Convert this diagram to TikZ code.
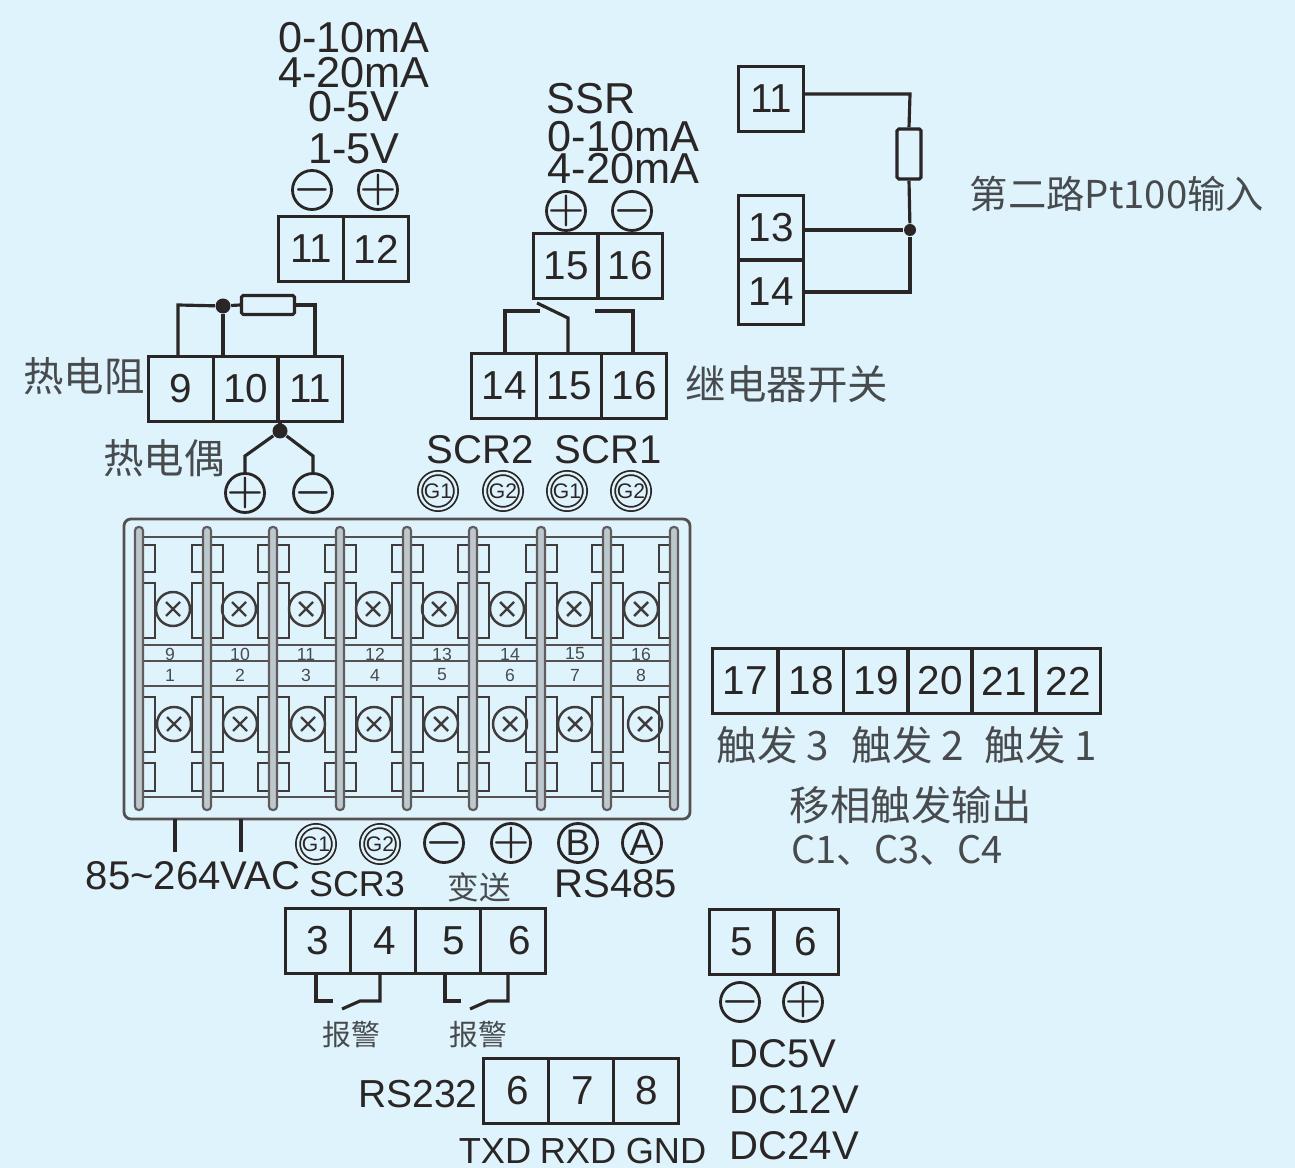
\documentclass[tikz,border=0pt]{standalone}
\usepackage{fontspec}
\setmainfont{Liberation Sans}
\newfontfamily\cjk{Noto Sans CJK SC}
\usepackage{tikz}
\definecolor{panelblue}{HTML}{DFF3FC}
\definecolor{inkdark}{HTML}{2B2626}
\definecolor{inkgray}{HTML}{484B4D}
\definecolor{barfill}{HTML}{BCC8CE}
\newcommand{\marktext}[1]{\smash{\raisebox{-0.25em}{\makebox[0pt]{\boldmath$#1$}}}}
\tikzset{
	wire/.style={draw=inkdark,line width=0.9pt},
	cell/.style={draw=inkdark,line width=0.9pt,minimum width=0.65cm,minimum height=0.65cm,inner sep=0pt,text=inkdark,font=\fontsize{11.5}{11.5}\selectfont},
	lbl/.style={inner sep=0pt,text=inkdark,font=\fontsize{11.4}{11.4}\selectfont},
	biglbl/.style={inner sep=0pt,text=inkdark,font=\fontsize{12.3}{12.3}\selectfont},
	cjklbl/.style={inner sep=0pt,text=inkgray,font=\cjk\fontsize{11.5}{11.5}\selectfont},
	smallcjk/.style={inner sep=0pt,text=inkgray,font=\cjk\fontsize{8.2}{8.2}\selectfont},
	signmark/.style={draw=inkdark,line width=0.8pt,circle,minimum size=0.39cm,inner sep=0pt,text=inkdark,font=\fontsize{12}{12}\selectfont},
	gmark/.style={draw=inkdark,line width=0.5pt,circle,double=panelblue,double distance=0.7pt,minimum size=0.36cm,inner sep=0pt,text=inkdark,font=\fontsize{6}{6}\selectfont},
	dotmark/.style={circle,fill=inkdark,inner sep=0pt,minimum size=0.15cm},
	resist/.style={draw=inkdark,line width=0.9pt,rounded corners=0.5pt,inner sep=0pt},
	tabline/.style={draw=inkdark!90,line width=0.7pt},
	railline/.style={draw=inkdark!80,line width=0.8pt},
	barline/.style={draw=inkdark!75,line width=0.6pt,fill=barfill,rounded corners=1pt},
	tinynum/.style={text=inkgray,inner sep=0pt,font=\fontsize{5}{5}\selectfont},
}
\begin{document}
\begin{tikzpicture}[x=0.01cm,y=-0.01cm]
	\fill[panelblue] (0,0) rectangle (1295,1168);
	\useasboundingbox (0,0) rectangle (1295,1168);

	\foreach \name/\x/\y/\txt in {a11/311/249/11,a12/376/249/12,
		b15/566/266/15,b16/630/266/16,
		d11/771/99/11,d13/771/228/13,d14/771/292/14,
		e9/181/389/9,e10/246/389/10,e11/310/389/11,
		f14/504/386/14,f15/569/386/15,f16/634/386/16,
		g17/745/681/17,g18/811/681/18,g19/876/681/19,g20/940/681/20,g21/1004/681/21,g22/1068/681/22,
		h3/318/941/3,h4/383/941/\kern0.04cm 4,h5/448/941/\kern0.12cm 5,h6/513/941/\kern0.14cm 6,
		i5/742/942/5,i6/806/942/6,
		j6/516/1091/\kern0.04cm 6,j7/581/1091/\kern0.04cm 7,j8/646/1091/\kern0.02cm 8} {
		\node[cell] (\name) at (\x,\y) {\txt};
	}

	\foreach \y/\txt in {38/0-10mA,73/4-20mA,107/0-5V,149/1-5V} {
		\node[biglbl] (in\y) at (354,\y) {\txt};
	}
	\node[signmark] (aminus) at (312,190) {\marktext{-}};
	\node[signmark] (aplus) at (378,190) {\marktext{+}};

	\node[biglbl,anchor=west] (ssr) at (546,99) {SSR};
	\node[biglbl,anchor=west] (ssr2) at (547,137) {0-10mA};
	\node[biglbl,anchor=west] (ssr3) at (547,169) {4-20mA};
	\node[signmark] (bplus) at (566,211) {\marktext{+}};
	\node[signmark] (bminus) at (632,211) {\marktext{-}};

	\node[resist,minimum width=0.24cm,minimum height=0.5cm] (ptres) at (909,154) {};
	\node[dotmark,minimum size=0.12cm] (ptdot) at (910,230) {};
	\coordinate (pttop) at (910,94);
	\draw[wire] (d11.east |- pttop) -- (pttop) -- (ptres.north);
	\draw[wire] (ptres.south) -- (ptdot);
	\draw[wire] (d13.east |- ptdot) -- (ptdot);
	\draw[wire] (d14.east) -- (d14.east -| ptdot) -- (ptdot);
	\node[cjklbl,font=\cjk\fontsize{10.9}{10.9}\selectfont] (ptlbl) at (1117,194) {第二路Pt100输入};

	\coordinate (rtdleft) at (178,305);
	\node[dotmark] (rtddot) at (223,306) {};
	\node[resist,minimum width=0.53cm,minimum height=0.19cm] (rtdres) at (268,305) {};
	\coordinate (rtdright) at (315,305);
	\draw[wire] (e9.north -| rtdleft) -- (rtdleft) -- (rtddot) -- (rtdres.west);
	\draw[wire] (e10.north -| rtddot) -- (rtddot);
	\draw[wire] (rtdres.east) -- (rtdright) -- (e11.north -| rtdright);
	\node[cjklbl] (rtdlbl) at (84,376) {热电阻};

	\node[dotmark] (tcdot) at (280,431) {};
	\node[signmark] (tcplus) at (245,493) {\marktext{+}};
	\node[signmark] (tcminus) at (313,493) {\marktext{-}};
	\coordinate (tca) at (245,456);
	\coordinate (tcb) at (313,456);
	\draw[wire] (e11.south -| tcdot) -- (tcdot);
	\draw[wire] (tcplus.north) -- (tca) -- (tcdot) -- (tcb) -- (tcminus.north);
	\node[cjklbl] (tclbl) at (164,458) {热电偶};

	\coordinate (rlya) at (505,311);
	\coordinate (rlyb) at (540,311);
	\coordinate (rlyc) at (537,303);
	\coordinate (rlyd) at (568,318);
	\coordinate (rlye) at (595,311);
	\coordinate (rlyf) at (633,311);
	\draw[wire] (f14.north -| rlya) -- (rlya) -- (rlyb);
	\draw[wire] (rlyc) -- (rlyd) -- (f15.north -| rlyd);
	\draw[wire] (rlye) -- (rlyf) -- (f16.north -| rlyf);
	\node[cjklbl] (rlylbl) at (787,384) {继电器开关};

	\node[lbl] (scr2) at (480,450) {SCR2};
	\node[lbl] (scr1) at (608,450) {SCR1};
	\foreach \name/\x/\txt in {ga/438/G1,gb/503/G2,gc/567/G1,gd/631/G2} {
		\node[gmark] (\name) at (\x,491) {\txt};
	}

	\draw[railline,rounded corners=2pt] (124,519) rectangle (690,819);
	\foreach \y in {537,645,661,686,797} {
		\draw[railline] (139,\y) -- (674,\y);
	}
	\foreach \x/\xn/\sa/\sb/\ux/\up/\lo in {139/207/173/174/170/9/1,207/273/239/240/240/10/2,273/340/306/308/306/11/3,340/407/373/374/375/12/4,
		407/473/439/441/442/13/5,473/541/507/510/510/14/6,541/607/574/575/575/15/7,607/674/641/645/641/16/8} {
		\foreach \ya/\yb in {545/572,583/638,697/752,763/791} {
			\draw[tabline] (\x+4,\ya) -- (\x+16,\ya) -- (\x+16,\yb) -- (\x+4,\yb);
			\draw[tabline] (\xn-4,\ya) -- (\xn-15,\ya) -- (\xn-15,\yb) -- (\xn-4,\yb);
		}
		\foreach \sx/\sy in {\sa/609,\sb/724} {
			\draw[tabline] (\sx,\sy) circle (17);
			\draw[tabline] (\sx-7,\sy-7) -- (\sx+7,\sy+7) (\sx-7,\sy+7) -- (\sx+7,\sy-7);
		}
		\node[tinynum] at (\ux,654) {\up};
		\node[tinynum] at (\ux,675) {\lo};
	}
	\foreach \x in {139,207,273,340,407,473,541,607,674} {
		\draw[barline] (\x-4,527) rectangle (\x+4,810);
	}

	\coordinate (acl) at (175,852);
	\coordinate (acn) at (241,852);
	\draw[wire] (175,819) -- (acl);
	\draw[wire] (241,819) -- (acn);
	\node[lbl] (aclbl) at (193,876) {85\textasciitilde264VAC};
	\node[gmark] (ge) at (316,844) {G1};
	\node[gmark] (gf) at (380,844) {G2};
	\node[signmark] (rminus) at (444,843) {\marktext{-}};
	\node[signmark] (rplus) at (511,843) {\marktext{+}};
	\node[signmark,font=\fontsize{10.5}{10.5}\selectfont] (rb) at (578,843) {B};
	\node[signmark,font=\fontsize{10.5}{10.5}\selectfont] (ra) at (642,843) {A};
	\node[lbl,font=\fontsize{10.2}{10.2}\selectfont] (scr3) at (357,884) {SCR3};
	\node[cjklbl,font=\cjk\fontsize{9}{9}\selectfont] (txlbl) at (479,887) {变送};
	\node[lbl] (rs485) at (616,884) {RS485};

	\coordinate (ala) at (316,1001);
	\coordinate (alb) at (333,1001);
	\coordinate (alc) at (342,1009);
	\coordinate (ald) at (360,1001);
	\coordinate (ale) at (380,1001);
	\draw[wire] (h3.south -| ala) -- (ala) -- (alb);
	\draw[wire] (alc) -- (ald) -- (ale) -- (h4.south -| ale);
	\coordinate (alf) at (445,1001);
	\coordinate (alg) at (461,1001);
	\coordinate (alh) at (470,1009);
	\coordinate (ali) at (488,1001);
	\coordinate (alj) at (508,1001);
	\draw[wire] (h5.south -| alf) -- (alf) -- (alg);
	\draw[wire] (alh) -- (ali) -- (alj) -- (h6.south -| alj);
	\node[smallcjk] (alarma) at (351,1035) {报警};
	\node[smallcjk] (alarmb) at (478,1035) {报警};

	\node[cjklbl] (trig3) at (773,745) {触发 3};
	\node[cjklbl] (trig2) at (908,745) {触发 2};
	\node[cjklbl] (trig1) at (1041,745) {触发 1};
	\node[cjklbl] (trigt) at (911,805) {移相触发输出};
	\node[cjklbl,font=\cjk\fontsize{10.8}{10.8}\selectfont] (trigc) at (897,850) {C1、C3、C4};

	\node[signmark] (iminus) at (740,1002) {\marktext{-}};
	\node[signmark] (iplus) at (803,1002) {\marktext{+}};
	\node[lbl,anchor=west] (dc5) at (729,1054) {DC5V};
	\node[lbl,anchor=west] (dc12) at (729,1100) {DC12V};
	\node[lbl,anchor=west] (dc24) at (729,1146) {DC24V};

	\node[lbl,font=\fontsize{11.1}{11.1}\selectfont] (rs232) at (418,1094) {RS232};
	\node[lbl,font=\fontsize{10.3}{10.3}\selectfont] (txd) at (495,1151) {TXD};
	\node[lbl,font=\fontsize{10.3}{10.3}\selectfont] (rxd) at (578,1151) {RXD};
	\node[lbl,font=\fontsize{10.3}{10.3}\selectfont] (gnd) at (666,1151) {GND};
\end{tikzpicture}
\end{document}
